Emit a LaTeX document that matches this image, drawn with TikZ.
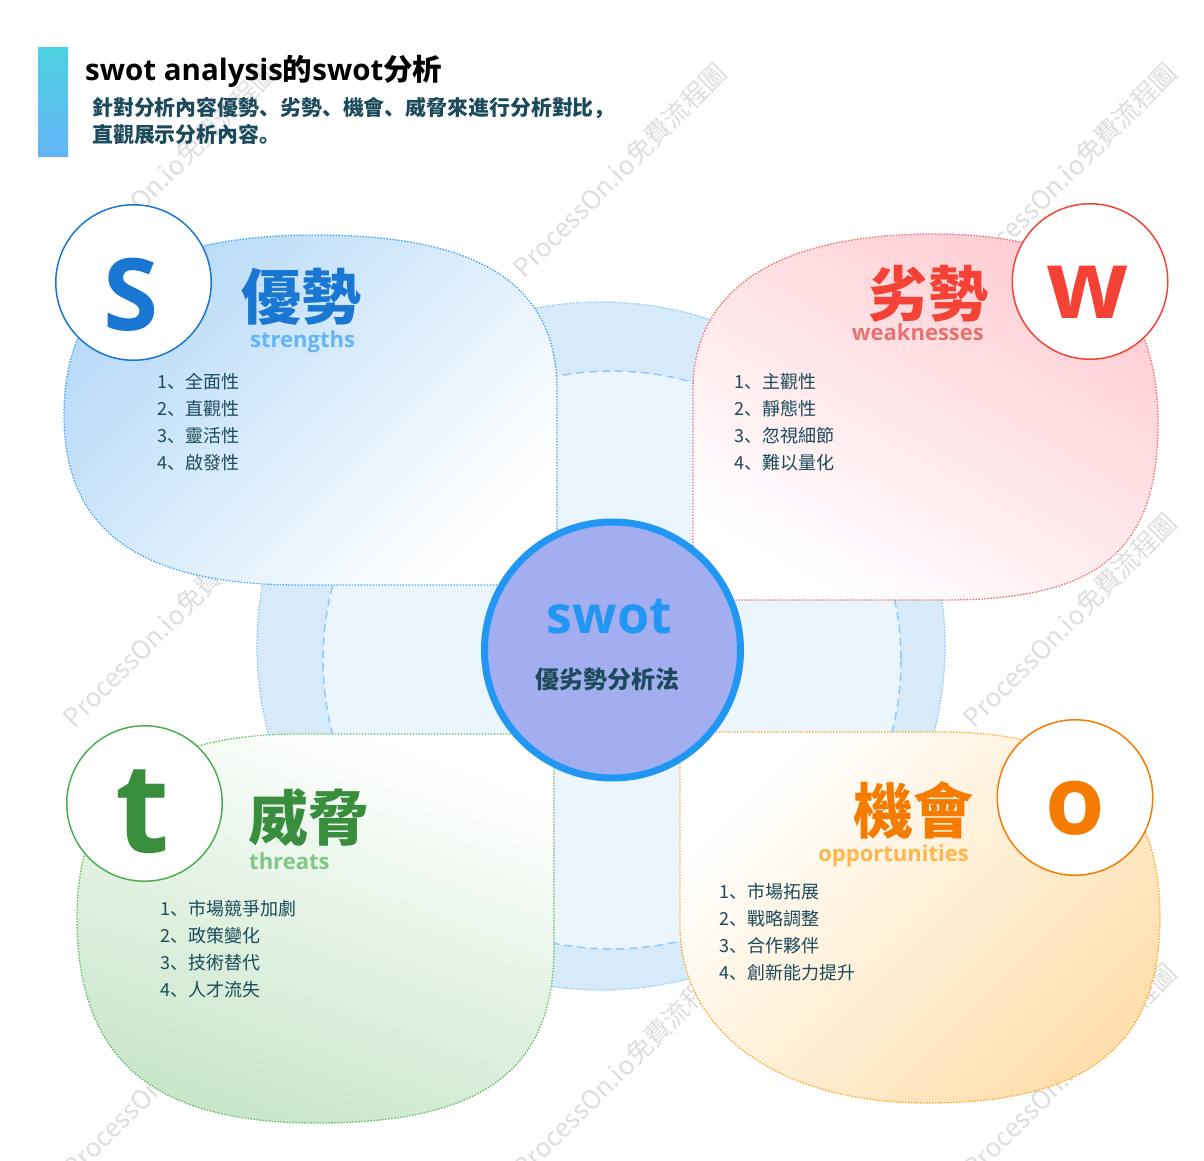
\documentclass[tikz,border=0pt]{standalone}
\usepackage{fontspec}
\newfontfamily\cjk{Noto Sans CJK SC}
\newfontfamily\lat{Open Sans}
\definecolor{ink}{HTML}{1B4A5A}
\definecolor{ringA}{HTML}{D7EAFA}
\definecolor{ringB}{HTML}{EAF5FE}
\definecolor{ringLine}{HTML}{90CAF9}
\definecolor{coreF}{HTML}{A3AEF1}
\definecolor{coreB}{HTML}{2196F3}
\definecolor{barTop}{HTML}{4DD0E1}
\definecolor{barBot}{HTML}{64B5F6}
\definecolor{sMain}{HTML}{1976D2}
\definecolor{sSub}{HTML}{64B5F6}
\definecolor{sLine}{HTML}{42A5F5}
\definecolor{sFill}{HTML}{B7DAF8}
\definecolor{wMain}{HTML}{F44336}
\definecolor{wSub}{HTML}{E57373}
\definecolor{wLine}{HTML}{E57373}
\definecolor{wFill}{HTML}{FFCDD3}
\definecolor{tMain}{HTML}{388E3C}
\definecolor{tSub}{HTML}{81C784}
\definecolor{tLine}{HTML}{66BB6A}
\definecolor{tCirc}{HTML}{4CAF50}
\definecolor{tFill}{HTML}{C8E6C9}
\definecolor{oMain}{HTML}{F57C00}
\definecolor{oSub}{HTML}{FFB74D}
\definecolor{oLine}{HTML}{FFA726}
\definecolor{oFill}{HTML}{FFDFAE}
\begin{document}
\begin{tikzpicture}[x=1pt,y=-1pt,
  wmark/.style={text=black!13, font=\cjk\fontsize{26}{26}\selectfont, rotate=45, inner sep=0pt},
  ringout/.style={fill=ringA, draw=ringLine, line width=1.3pt, dash pattern=on 1.5pt off 1.5pt},
  ringin/.style={fill=ringB, draw=ringLine, line width=1.5pt, dash pattern=on 8pt off 5pt},
  blob/.style={line width=1.3pt, dash pattern=on 1.5pt off 1.5pt},
  lettercirc/.style={circle, draw, fill=white, line width=1.5pt, minimum size=155.5pt, inner sep=0pt},
  letter/.style={anchor=base, inner sep=0pt},
  head/.style={font=\cjk\bfseries\fontsize{60}{60}\selectfont, inner sep=0pt},
  subhead/.style={font=\lat\bfseries\fontsize{22}{22}\selectfont, inner sep=0pt},
  item/.style={font=\cjk\fontsize{18}{18}\selectfont, text=ink, anchor=base west, inner sep=0pt},
  core/.style={circle, fill=coreF, draw=coreB, line width=7pt, minimum size=256pt, inner sep=0pt},
  bar/.style={minimum width=30pt, minimum height=109pt, inner sep=0pt, top color=barTop, bottom color=barBot},
  title/.style={font=\cjk\bfseries\fontsize{29.5}{29.5}\selectfont, text=black, anchor=base west, inner sep=0pt},
  subt/.style={font=\cjk\bfseries\fontsize{20.9}{20.9}\selectfont, text=ink, anchor=base west, inner sep=0pt}
]
\useasboundingbox (0,0) rectangle (1204,1161);
\fill[white] (0,0) rectangle (1204,1161);

% watermarks
\foreach \wx/\wy [count=\i] in {170/170, 620/170, 1070/170, 170/620, 1070/620, 170/1070, 620/1070, 1070/1070}
  \node[wmark] (wm\i) at (\wx,\wy) {ProcessOn.io免費流程圖};

% header
\node[bar] (bar) at (53,102.5) {};
\node[title] (title) at (85,81) {{\lat swot analysis}的{\lat swot}分析};
\node[subt] (sub1) at (92,116) {針對分析內容優勢、劣勢、機會、威脅來進行分析對比，};
\node[subt] (sub2) at (92,143) {直觀展示分析內容。};

% ring
\path[ringout] (601,646) circle[radius=344];
\path[ringin] (612,660) circle[radius=289];

% S blob
\path[blob, draw=sLine, top color=sFill, bottom color=white, shading angle=45]
  (557,585) -- (300,585)
  .. controls (139.5,585) and (64,530.6) .. (64,415)
  .. controls (64,292.6) and (144.3,235) .. (315,235)
  .. controls (479.6,235) and (557,284.6) .. (557,390) -- cycle;
% W blob
\path[blob, draw=wLine, top color=wFill, bottom color=white, shading angle=-30]
  (693,600) -- (693,390)
  .. controls (693,288.6) and (777.7,234) .. (935,234)
  .. controls (1086.6,234) and (1158,294.5) .. (1158,423)
  .. controls (1158,550) and (1100,600) .. (945,600) -- cycle;
% T blob
\path[blob, draw=tLine, top color=white, bottom color=tFill, shading angle=-20]
  (554,734) -- (554,947)
  .. controls (554,1070.2) and (482.9,1123) .. (317,1123)
  .. controls (151.4,1123) and (77,1059.1) .. (77,917)
  .. controls (77,792.6) and (148.4,734) .. (300,734) -- cycle;
% O blob
\path[blob, draw=oLine, top color=white, bottom color=oFill, shading angle=45]
  (680,732) -- (940,732)
  .. controls (1089.6,732) and (1160,791.2) .. (1160,917)
  .. controls (1160,1045.3) and (1087.8,1103) .. (927,1103)
  .. controls (778.8,1103) and (680,1031.8) .. (680,925) -- cycle;

% letter circles
\node[lettercirc, draw=sMain] (sc) at (133.5,282.5) {};
\node[lettercirc, draw=wMain] (wc) at (1090,281.5) {};
\node[lettercirc, draw=tCirc] (tc) at (144.5,803.5) {};
\node[lettercirc, draw=oMain] (oc) at (1075,797.5) {};
\node[letter, text=sMain, font=\lat\bfseries\fontsize{100}{100}\selectfont] (sl) at (131.5,330) {S};
\node[letter, text=wMain, font=\lat\bfseries\fontsize{96}{96}\selectfont] (wl) at (1087.5,318) {w};
\node[letter, text=tMain, font=\lat\bfseries\fontsize{125}{125}\selectfont] (tl) at (142.5,852) {t};
\node[letter, text=oMain, font=\lat\bfseries\fontsize{96}{96}\selectfont] (ol) at (1075,834) {o};

% headings
\node[head, text=sMain, anchor=base west] (sh) at (241,319) {優勢};
\node[subhead, text=sSub, anchor=base west] (ss) at (250,347) {strengths};
\node[head, text=wMain, anchor=base east] (wh) at (989,316) {劣勢};
\node[subhead, text=wSub, anchor=base east] (ws) at (984,340) {weaknesses};
\node[head, text=tMain, anchor=base west] (th) at (248,840) {威脅};
\node[subhead, text=tSub, anchor=base west] (ts) at (249,869) {threats};
\node[head, text=oMain, anchor=base east] (oh) at (974,833) {機會};
\node[subhead, text=oSub, anchor=base east] (os) at (969,861) {opportunities};

% lists
\foreach \t [count=\i] in {1、全面性,2、直觀性,3、靈活性,4、啟發性}
  \node[item] (s\i) at (157,361+27*\i) {\t};
\foreach \t [count=\i] in {1、主觀性,2、靜態性,3、忽視細節,4、難以量化}
  \node[item] (w\i) at (734,361+27*\i) {\t};
\foreach \t [count=\i] in {1、市場競爭加劇,2、政策變化,3、技術替代,4、人才流失}
  \node[item] (t\i) at (160,888+27*\i) {\t};
\foreach \t [count=\i] in {1、市場拓展,2、戰略調整,3、合作夥伴,4、創新能力提升}
  \node[item] (o\i) at (719,871+27*\i) {\t};

% core
\node[core] (core) at (612.5,650) {};
\node[anchor=base, inner sep=0pt, text=coreB, font=\lat\bfseries\fontsize{52}{52}\selectfont] (coret) at (609.5,633) {swot};
\node[anchor=base, inner sep=0pt, text=ink, font=\cjk\bfseries\fontsize{24}{24}\selectfont] (cores) at (607,688) {優劣勢分析法};
\end{tikzpicture}
\end{document}
